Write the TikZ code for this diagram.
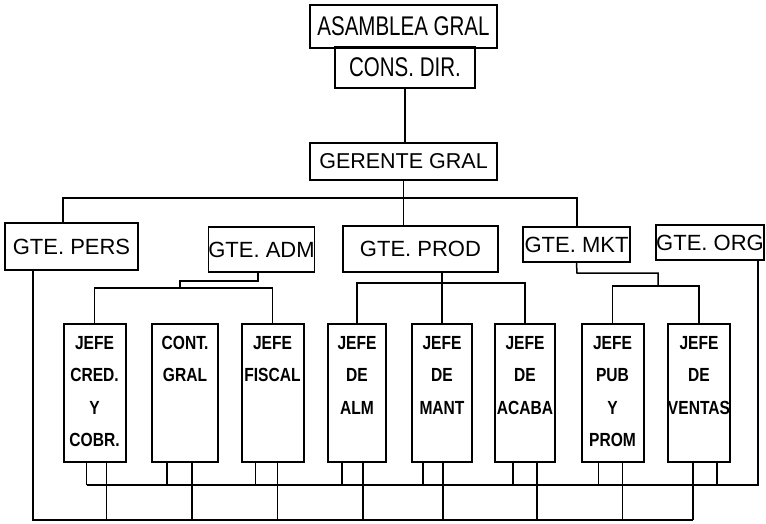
\documentclass[tikz,border=0pt]{standalone}
\usepackage{fontspec}
\setmainfont{Liberation Sans}
\newfontfamily\asmfont[FakeStretch=0.76]{Liberation Sans}
\newfontfamily\jefefont[FakeStretch=0.82]{Liberation Sans}
\newcommand\jlines[1]{\begin{tabular}[t]{@{}c@{}}#1\end{tabular}}
\begin{document}
\begin{tikzpicture}[x=1pt, y=-1pt,
  box/.style={draw, line width=1.6pt, inner sep=0pt, font=\fontsize{22}{24}\selectfont},
  topbox/.style={box, font=\asmfont\fontsize{27}{30}\selectfont},
  jefebox/.style={draw, line width=2pt, inner sep=0pt, minimum width=62pt,
    text height=25pt, text depth=113pt,
    font=\jefefont\bfseries\fontsize{19}{32.5}\selectfont},
  conn/.style={line width=1.5pt}]
  \useasboundingbox (0,0) rectangle (766,523);
  % direccion
  \node[topbox, minimum width=187pt, minimum height=43pt] (asamblea) at (403.5,26.5) {ASAMBLEA GRAL};
  \node[topbox, minimum width=140pt, minimum height=41pt] (cons) at (405,67.5) {CONS. DIR.};
  \node[box, font=\fontsize{21.5}{22}\selectfont, minimum width=187pt, minimum height=37pt] (gerente) at (403.5,161.5) {GERENTE GRAL};
  % gerencias
  \node[box, minimum width=133pt, minimum height=47pt] (pers) at (71.5,246.5) {GTE. PERS};
  \node[box, minimum width=103pt, minimum height=45pt] (adm) at (261.5,249.5) {GTE. ADM};
  \node[box, minimum width=155pt, minimum height=46pt] (prod) at (420.5,249) {GTE. PROD};
  \node[box, minimum width=107pt, minimum height=35pt] (mkt) at (576.5,244.5) {GTE. MKT};
  \node[box, minimum width=106pt, minimum height=35pt] (org) at (710,242.5) {GTE. ORG};
  % jefaturas
  \node[jefebox, anchor=north] (cred) at (94.5,323) {\jlines{JEFE\\CRED.\\Y\\COBR.}};
  \node[jefebox, anchor=north, minimum width=66pt] (cont) at (185,323) {\jlines{CONT.\\GRAL}};
  \node[jefebox, anchor=north] (fiscal) at (272.5,323) {\jlines{JEFE\\FISCAL}};
  \node[jefebox, anchor=north, minimum width=58pt] (alm) at (357,323) {\jlines{JEFE\\DE\\ALM}};
  \node[jefebox, anchor=north, minimum width=60pt] (mant) at (442,323) {\jlines{JEFE\\DE\\MANT}};
  \node[jefebox, anchor=north, minimum width=60pt] (acaba) at (525,323) {\jlines{JEFE\\DE\\ACABA}};
  \node[jefebox, anchor=north] (pub) at (612.5,323) {\jlines{JEFE\\PUB\\Y\\PROM}};
  \node[jefebox, anchor=north] (ventas) at (699,323) {\jlines{JEFE\\DE\\VENTAS}};
  % lineas de mando
  \coordinate (busL) at (63,198);
  \coordinate (busR) at (577,198);
  \coordinate (upW) at (87,485);
  \coordinate (upE) at (758,485);
  \coordinate (loW) at (33,520);
  \coordinate (loE) at (693,520);
  \draw[conn] (cons.south) -- (cons.south |- gerente.north);
  \draw[conn] (gerente.south) -- (gerente.south |- prod.north);
  \draw[conn] (busR |- mkt.north) -- (busR) -- (busL) -- (busL |- pers.north);
  \draw[conn] (258,272) -- (258,281) -- (180,281) -- (180,288);
  \draw[conn] (cred.north) -- (cred.north |- 0,288) -- (fiscal.north |- 0,288) -- (fiscal.north);
  \draw[conn] (mant.north |- prod.south) -- (mant.north);
  \draw[conn] (alm.north) -- (alm.north |- 0,283) -- (acaba.north |- 0,283) -- (acaba.north);
  \draw[conn] (mkt.south) -- (577,273) -- (658,273) -- (658,286);
  \draw[conn] (pub.north) -- (pub.north |- 0,286) -- (ventas.north |- 0,286) -- (ventas.north);
  % enlaces inferiores
  \draw[conn] (org.south -| upE) -- (upE) -- (upW);
  \draw[conn] (pers.south -| loW) -- (loW) -- (loE);
  \foreach \n/\u/\l in {cred/-8/12, cont/-18/7, fiscal/-17/5, alm/-15/6,
                        mant/-19/1, acaba/-12/12, pub/-14/10, ventas/18/-6} {
    \draw[conn] ([xshift=\u pt]\n.south) -- ([xshift=\u pt]\n.south |- upW);
    \draw[conn] ([xshift=\l pt]\n.south) -- ([xshift=\l pt]\n.south |- loW);
  }
\end{tikzpicture}
\end{document}
